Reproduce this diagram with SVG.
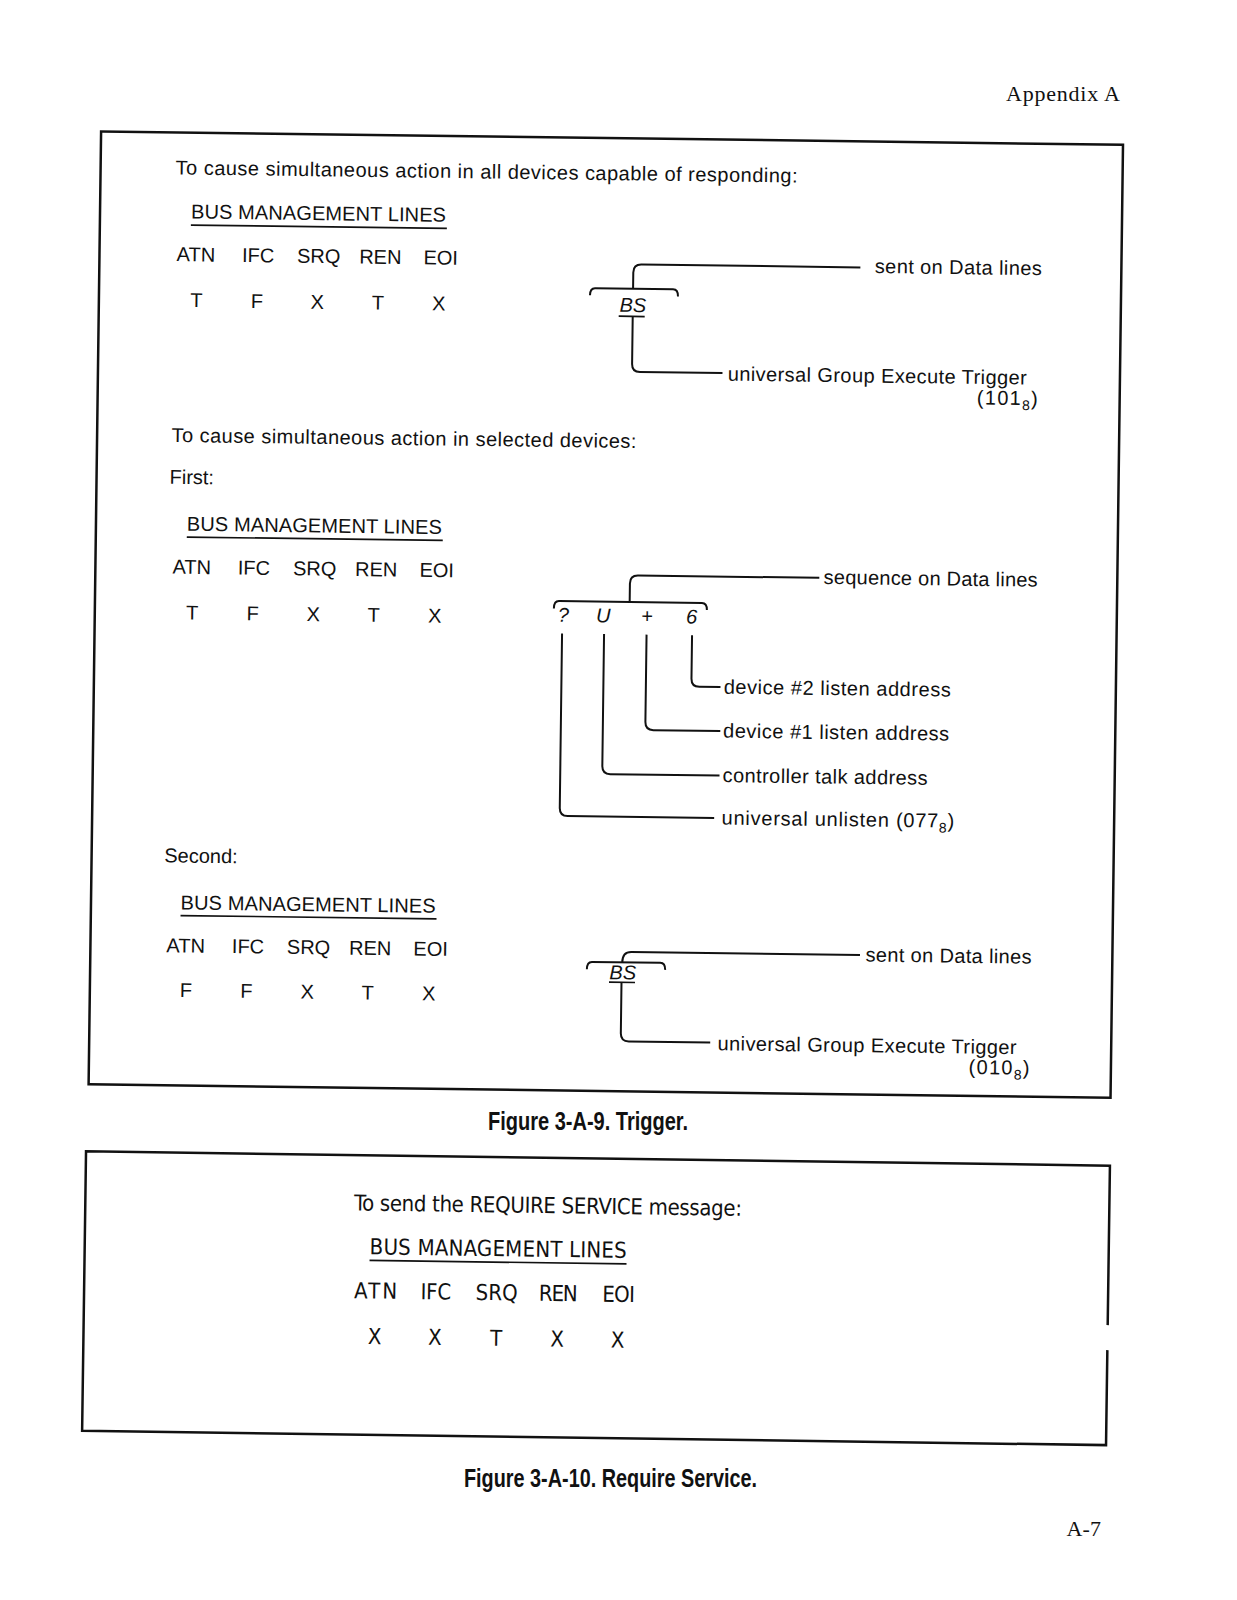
<svg xmlns="http://www.w3.org/2000/svg" width="1237" height="1600" viewBox="0 0 1237 1600">
<style>
.t{font-family:"Liberation Sans",Arial,sans-serif;font-size:20px;fill:#111}
.i{font-style:italic}
.m{text-anchor:middle}
.e{text-anchor:end}
.n{font-family:"Liberation Sans Narrow","DejaVu Sans Condensed","Liberation Sans",sans-serif;font-size:22px;fill:#111}
.cap{font-family:"Liberation Sans",Arial,sans-serif;font-weight:bold;font-size:26px;fill:#111}
.ser{font-family:"Liberation Serif","Times New Roman",serif;font-size:22px;fill:#111}
.ln{fill:none;stroke:#111;stroke-width:2}
.ul{fill:none;stroke:#111;stroke-width:1.7}
.box{fill:none;stroke:#111;stroke-width:2.5}
.sub{font-size:14px}
</style>
<rect width="1237" height="1600" fill="#fff"/>
<g id="header"><text class="ser" x="1006" y="101" textLength="114">Appendix A</text></g>
<g id="figure-9" transform="rotate(0.75 600 600)">
  <path class="box" d="M95 138 L1117 138 L1117 1091 L95 1091 Z"/>
  <g id="all-devices">
    <text class="t" x="170" y="180" textLength="622">To cause simultaneous action in all devices capable of responding:</text>
    <text class="t" x="186" y="223.8" textLength="255">BUS MANAGEMENT LINES</text>
    <path class="ul" d="M186 230.5 L442 230.5"/>
    <text class="t" x="172.2" y="266.7">ATN</text><text class="t" x="237.5" y="266.7">IFC</text><text class="t" x="292.6" y="266.7">SRQ</text><text class="t" x="354.8" y="266.7">REN</text><text class="t" x="419.1" y="266.7">EOI</text>
    <text class="t m" x="192.5" y="312.5">T</text><text class="t m" x="253" y="312.5">F</text><text class="t m" x="313.5" y="312.5">X</text><text class="t m" x="374" y="312.5">T</text><text class="t m" x="435" y="312.5">X</text>
  </g>
  <g id="bs1">
    <text class="t i" x="615.7" y="311.5">BS</text>
    <text class="t" x="870.4" y="269.5" textLength="167">sent on Data lines</text>
    <text class="t" x="724.8" y="379" textLength="299">universal Group Execute Trigger</text>
    <text class="t e" x="1036.5" y="399.5" letter-spacing="1.3">(101<tspan class="sub" dy="5">8</tspan><tspan dy="-5">)</tspan></text>
  </g>
  <g id="selected-first">
    <text class="t" x="169.4" y="447.6" textLength="465">To cause simultaneous action in selected devices:</text>
    <text class="t" x="168" y="489.4">First:</text>
    <text class="t" x="186" y="536.1" textLength="255">BUS MANAGEMENT LINES</text>
    <path class="ul" d="M186 542.5 L442 542.5"/>
    <text class="t" x="172.2" y="579.2">ATN</text><text class="t" x="237.5" y="579.2">IFC</text><text class="t" x="292.6" y="579.2">SRQ</text><text class="t" x="354.8" y="579.2">REN</text><text class="t" x="419.1" y="579.2">EOI</text>
    <text class="t m" x="192.5" y="624.8">T</text><text class="t m" x="253" y="624.8">F</text><text class="t m" x="313.5" y="624.8">X</text><text class="t m" x="374" y="624.8">T</text><text class="t m" x="435" y="624.8">X</text>
  </g>
  <g id="sequence">
    <text class="t i m" x="563.7" y="622.3">?</text>
    <text class="t i m" x="603.5" y="622.3">U</text>
    <text class="t m" x="647.3" y="622.3">+</text>
    <text class="t i m" x="691.8" y="622.3">6</text>
    <text class="t" x="823.4" y="581" textLength="214">sequence on Data lines</text>
    <text class="t" x="724.9" y="692" textLength="227">device #2 listen address</text>
    <text class="t" x="724.9" y="736" textLength="226">device #1 listen address</text>
    <text class="t" x="724.9" y="780.5" textLength="205">controller talk address</text>
    <text class="t" x="724.5" y="823" letter-spacing="0.75">universal unlisten (077<tspan class="sub" dy="5">8</tspan><tspan dy="-5">)</tspan></text>
  </g>
  <g id="selected-second">
    <text class="t" x="167.7" y="868">Second:</text>
    <text class="t" x="184.7" y="914.9" textLength="255">BUS MANAGEMENT LINES</text>
    <path class="ul" d="M184.7 921 L440.7 921"/>
    <text class="t" x="171" y="957.9">ATN</text><text class="t" x="236.5" y="957.9">IFC</text><text class="t" x="291.5" y="957.9">SRQ</text><text class="t" x="353.7" y="957.9">REN</text><text class="t" x="418" y="957.9">EOI</text>
    <text class="t m" x="191" y="1002.5">F</text><text class="t m" x="251.5" y="1002.5">F</text><text class="t m" x="312.5" y="1002.5">X</text><text class="t m" x="372.8" y="1002.5">T</text><text class="t m" x="434" y="1002.5">X</text>
  </g>
  <g id="bs2">
    <text class="t i" x="614.3" y="979">BS</text>
    <text class="t" x="870.2" y="958" textLength="166">sent on Data lines</text>
    <text class="t" x="723.4" y="1048.7" textLength="299">universal Group Execute Trigger</text>
    <text class="t e" x="1037" y="1069" letter-spacing="1.3">(010<tspan class="sub" dy="5">8</tspan><tspan dy="-5">)</tspan></text>
  </g>
</g>
<g id="connectors" transform="rotate(0.75 600 600)">
  <path class="ln" d="M586 295.5 Q586 288.4 591 288.4 L669 288.4 Q674 288.4 674 295.5"/>
  <path class="ln" d="M629 288.4 L629 272 Q629 264 637 264 L856 264"/>
  <path class="ul" d="M615 316 L641 316"/>
  <path class="ln" d="M629 316 L629 363.5 Q629 371.5 637 371.5 L719.5 371.5"/>
  <path class="ln" d="M554 609 Q554 601.6 559 601.6 L702 601.6 Q707 601.6 707 608.5"/>
  <path class="ln" d="M629.7 601.6 L629.7 583 Q629.7 575 637.7 575 L819 575"/>
  <path class="ln" d="M562.5 634 L562.5 808.5 Q562.5 816.5 570.5 816.5 L717 816.5"/>
  <path class="ln" d="M604.5 634 L604.5 766 Q604.5 774 612.5 774 L721.8 774"/>
  <path class="ln" d="M647 634 L647 721.5 Q647 729.5 655 729.5 L722 729.5"/>
  <path class="ln" d="M692.5 634 L692.5 677.5 Q692.5 685.5 700.5 685.5 L721.6 685.5"/>
  <path class="ln" d="M591.7 969.5 Q591.7 962 596.7 962 L665 962 Q670 962 670 969"/>
  <path class="ln" d="M627 962 Q627 951.5 636 951.5 L864.6 951.5"/>
  <path class="ul" d="M614 982 L640 982"/>
  <path class="ln" d="M626.5 982 L626.5 1033 Q626.5 1041 634.5 1041 L716 1041"/>
</g>
<g id="caption-9"><text class="cap" transform="translate(488 1130) scale(0.77 1)" x="0" y="0">Figure 3-A-9. Trigger.</text></g>
<g id="figure-10" transform="rotate(0.8 597 1300)">
  <path class="box" d="M1108 1343 L1108 1438 L84 1438 L84 1158.5 L1108 1158.5 L1108 1318"/>
  <text class="n" x="352.7" y="1213.8" textLength="388">To send the REQUIRE SERVICE message:</text>
  <text class="n" x="369" y="1257.5" textLength="257">BUS MANAGEMENT LINES</text>
  <path class="ul" d="M369 1263.5 L626 1263.5"/>
  <text class="n" x="354.1" y="1301.6" textLength="42.9">ATN</text><text class="n" x="420.5" y="1301.6" textLength="30.6">IFC</text><text class="n" x="475.6" y="1301.6" textLength="41.9">SRQ</text><text class="n" x="538.9" y="1301.6" textLength="38.8">REN</text><text class="n" x="602.2" y="1301.6" textLength="32.7">EOI</text>
  <text class="n m" x="375.2" y="1347.2">X</text><text class="n m" x="435.4" y="1347.2">X</text><text class="n m" x="496.6" y="1347.2">T</text><text class="n m" x="557.6" y="1347.2">X</text><text class="n m" x="618.1" y="1347.2">X</text>
</g>
<g id="caption-10"><text class="cap" transform="translate(464 1487) scale(0.763 1)" x="0" y="0">Figure 3-A-10. Require Service.</text></g>
<g id="footer"><text class="ser" x="1066.5" y="1536" textLength="34.5">A-7</text></g>
</svg>
